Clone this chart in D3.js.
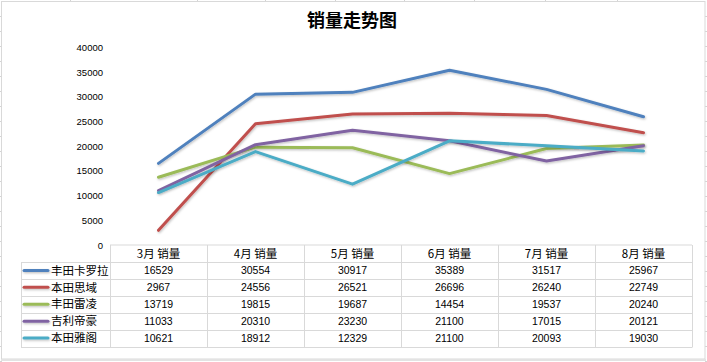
<!DOCTYPE html>
<html><head><meta charset="utf-8">
<script src="https://cdn.jsdelivr.net/npm/d3@7"></script>
<style>
html,body{margin:0;padding:0;background:#fff;}
svg{display:block;}
</style></head>
<body>
<script>
const title = "销量走势图";
const months = ["3月 销量","4月 销量","5月 销量","6月 销量","7月 销量","8月 销量"];
const seriesNames = ["丰田卡罗拉","本田思域","丰田雷凌","吉利帝豪","本田雅阁"];
const corolla = [16529,30554,30917,35389,31517,25967];
const civic = [2967,24556,26521,26696,26240,22749];
const levin = [13719,19815,19687,14454,19537,20240];
const emgrand = [11033,20310,23230,21100,17015,20121];
const accord = [10621,18912,12329,21100,20093,19030];
const yTicks = [0,5000,10000,15000,20000,25000,30000,35000,40000];
const colors = ["#4F81BD","#C0504D","#9BBB59","#8064A2","#4BACC6"];

const seriesValues = [corolla, civic, levin, emgrand, accord];
const W = 707, H = 362;
const svg = d3.select("body").append("svg").attr("width", W).attr("height", H);

// spreadsheet background stubs
const stubColor = "#d4d4d4";
const rowYs = d3.range(16, 362, 15);
const colXs = [70, 197, 265, 335, 404, 474, 545, 617];
svg.selectAll("line.rs").data(rowYs).join("line").attr("class","rs")
  .attr("x1",0).attr("x2",2).attr("y1",d=>d+0.5).attr("y2",d=>d+0.5).attr("stroke",stubColor);
svg.selectAll("line.rs2").data(rowYs).join("line").attr("class","rs2")
  .attr("x1",705).attr("x2",707).attr("y1",d=>d+0.5).attr("y2",d=>d+0.5).attr("stroke",stubColor);
svg.selectAll("line.cs").data(colXs).join("line").attr("class","cs")
  .attr("x1",d=>d+0.5).attr("x2",d=>d+0.5).attr("y1",0).attr("y2",1).attr("stroke",stubColor);

// chart frame
svg.append("rect").attr("x",1.5).attr("y",1.5).attr("width",703.5).attr("height",357.5)
  .attr("fill","#fff").attr("stroke","#d9d9d9").attr("stroke-width",1);
svg.append("line").attr("x1",1).attr("x2",706).attr("y1",360).attr("y2",360).attr("stroke","#e3e3e3").attr("stroke-width",2);

// title
svg.append("text").attr("x",352).attr("y",27).attr("text-anchor","middle")
  .attr("font-family","'Noto Sans CJK SC', sans-serif").attr("font-weight","bold")
  .attr("font-size",18).attr("fill","#000").text(title);

// scales
const x = d3.scaleBand().domain(months).range([110, 692]);
const y = d3.scaleLinear().domain([0, 40000]).range([245, 47.5]);

// y axis labels
const yAxis = d3.axisLeft(y).tickValues(yTicks).tickSize(0).tickPadding(0).tickFormat(d3.format("d"));
const ga = svg.append("g").attr("transform","translate(103,0)").call(yAxis);
ga.select(".domain").remove();
ga.selectAll("text").attr("font-family","'Liberation Sans', Arial, sans-serif").attr("font-size",9.5).attr("fill","#000");

// shadow filter (user space so zero-height lines still render)
const defs = svg.append("defs");
const f = defs.append("filter").attr("id","sh").attr("filterUnits","userSpaceOnUse")
  .attr("x",0).attr("y",0).attr("width",W).attr("height",H);
f.append("feDropShadow").attr("dx",0.8).attr("dy",1.2).attr("stdDeviation",0.8).attr("flood-color","#000").attr("flood-opacity",0.25);

// lines
const line = d3.line().x((d,i)=>x(months[i]) + x.bandwidth()/2).y(d=>y(d));
svg.append("g").selectAll("path").data(seriesValues).join("path")
  .attr("d", line).attr("fill","none").attr("stroke",(d,i)=>colors[i])
  .attr("stroke-width",3).attr("stroke-linejoin","round").attr("stroke-linecap","round")
  .attr("filter","url(#sh)");

// data table
const tTop = 245, hdrH = 17, rowH = 16.9;
const legLeft = 21, tRight = 692;
const gridColor = "#d9d9d9";
const tb = svg.append("g");
const bottom = tTop + hdrH + rowH*seriesNames.length;
tb.append("line").attr("x1",110).attr("x2",tRight).attr("y1",tTop).attr("y2",tTop).attr("stroke",gridColor);
const hy = d3.range(seriesNames.length+1).map(i => tTop + hdrH + rowH*i);
tb.selectAll("line.h").data(hy).join("line").attr("class","h")
  .attr("x1",legLeft).attr("x2",tRight).attr("y1",d=>Math.round(d)+0.5).attr("y2",d=>Math.round(d)+0.5).attr("stroke",gridColor);
const vx = months.map(m => x(m)).concat([tRight]);
tb.selectAll("line.v").data(vx).join("line").attr("class","v")
  .attr("x1",d=>Math.round(d)+0.5).attr("x2",d=>Math.round(d)+0.5).attr("y1",tTop).attr("y2",Math.round(bottom)+0.5).attr("stroke",gridColor);
tb.append("line").attr("x1",legLeft+0.5).attr("x2",legLeft+0.5).attr("y1",Math.round(tTop+hdrH)+0.5).attr("y2",Math.round(bottom)+0.5).attr("stroke",gridColor);

// header
tb.selectAll("text.hd").data(months).join("text").attr("class","hd")
  .attr("x",d=>x(d)+x.bandwidth()/2).attr("y",tTop+hdrH/2+4.3).attr("text-anchor","middle")
  .attr("font-family","'Noto Sans CJK SC', sans-serif").attr("font-size",11.5).attr("fill","#000").text(d=>d);

// rows
seriesNames.forEach((name, i) => {
  const cy = tTop + hdrH + rowH*i + rowH/2;
  tb.append("line").attr("x1",24).attr("x2",48).attr("y1",cy).attr("y2",cy)
    .attr("stroke",colors[i]).attr("stroke-width",3).attr("stroke-linecap","round").attr("filter","url(#sh)");
  tb.append("text").attr("x",51).attr("y",cy+4.2)
    .attr("font-family","'Noto Sans CJK SC', sans-serif").attr("font-size",11.5).attr("fill","#000").text(name);
  tb.selectAll(null).data(seriesValues[i]).join("text")
    .attr("x",(d,j)=>x(months[j])+x.bandwidth()/2).attr("y",cy+3.8).attr("text-anchor","middle")
    .attr("font-family","'Liberation Sans', Arial, sans-serif").attr("font-size",10.5).attr("fill","#000").text(d=>d);
});
</script>
</body></html>
